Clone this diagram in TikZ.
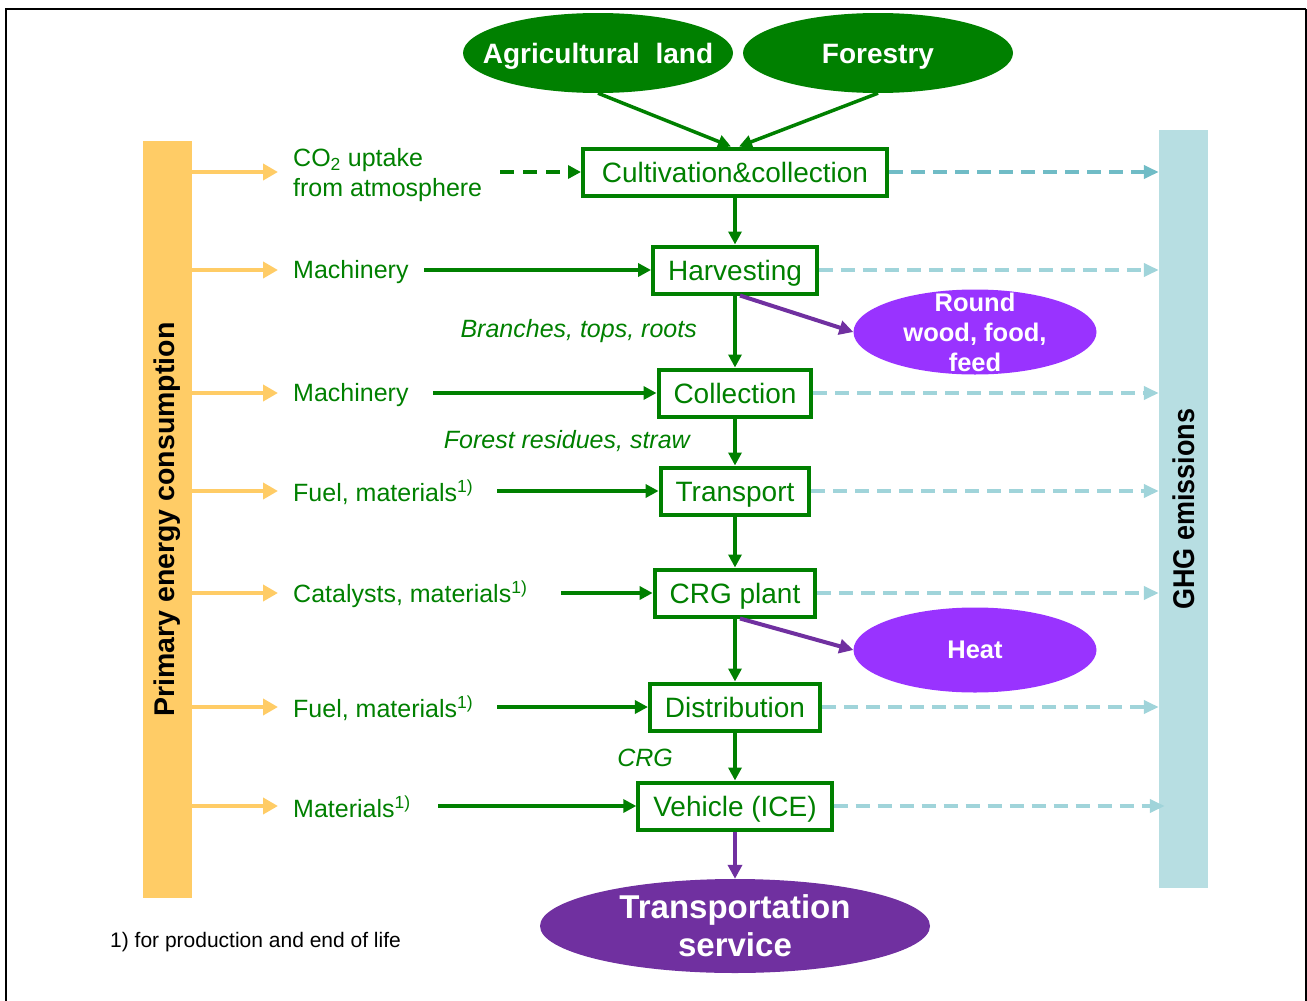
\documentclass[tikz,border=0pt]{standalone}
\usepackage{fontspec}
\setmainfont{Liberation Sans}
\usetikzlibrary{arrows.meta,shapes.geometric}

\begin{document}
\begin{tikzpicture}[x=1pt, y=-1pt,
    stepbox/.style={draw=crg-green, line width=4pt, fill=white, text=crg-green,
      font=\fontsize{28}{30}\selectfont, inner xsep=15pt, minimum height=47pt,
      text height=26pt, text depth=6pt},
    source/.style={ellipse, fill=crg-green, text=white, inner xsep=-20pt, inner ysep=0pt,
      font=\bfseries\fontsize{28}{30}\selectfont, minimum width=270pt, minimum height=80pt,
      text height=20pt, text depth=0pt},
    product/.style={ellipse, fill=my-violet, text=white, align=center, inner xsep=0pt,
      inner ysep=-16pt, font=\bfseries\fontsize{25.5}{30}\selectfont,
      minimum width=243pt, minimum height=85pt},
    input/.style={anchor=west, text=crg-green, inner sep=0pt, align=left,
      font=\fontsize{25}{30}\selectfont},
    stream/.style={anchor=east, text=crg-green, inner sep=0pt,
      font=\itshape\fontsize{25}{30}\selectfont},
    bar/.style={inner sep=0pt, minimum width=49pt},
    gflow/.style={draw=crg-green, line width=3.5pt, -{Triangle[length=13pt,width=13pt]}},
    yflow/.style={draw=my-yellow, line width=4pt, -{Triangle[length=15pt,width=16pt]}},
    tflow/.style={draw=my-teal, line width=4pt, dash pattern=on 14pt off 8pt,
      -{Triangle[length=15pt,width=13pt]}},
    pflow/.style={draw=my-purple, line width=4pt, -{Triangle[length=14pt,width=14pt]}}]
    \definecolor{crg-green}{RGB}{0,128,0}
    \definecolor{my-yellow}{RGB}{255,204,102}
    \definecolor{my-ghg}{RGB}{183,222,226}
    \definecolor{my-teal}{RGB}{160,212,218}
    \definecolor{my-teal-dark}{RGB}{112,188,198}
    \definecolor{my-violet}{RGB}{153,51,255}
    \definecolor{my-purple}{RGB}{112,48,160}
    \useasboundingbox (0,0) rectangle (1307,1001);
    % frame
    \draw[line width=2.5pt] (6,1001) -- (6,9) -- (1306,9);
    \draw[line width=1.5pt] (1306,9) -- (1306,1001);
    % sources
    \node[source] (agri) at (598,53) {Agricultural\ \ land};
    \node[source] (forest) at (878,53) {Forestry};
    % process chain
    \node[stepbox, minimum width=304pt] (cult) at (735,172) {Cultivation\&collection};
    \node[stepbox] (harv) at (735,270) {Harvesting};
    \node[stepbox] (coll) at (735,393) {Collection};
    \node[stepbox] (trans) at (735,491) {Transport};
    \node[stepbox] (plant) at (735,593) {CRG plant};
    \node[stepbox] (distr) at (735,707) {Distribution};
    \node[stepbox] (veh) at (735,806) {Vehicle (ICE)};
    \node[ellipse, fill=my-purple, text=white, align=center, inner xsep=0pt, inner ysep=-6pt,
      font=\bfseries\fontsize{33}{38}\selectfont, minimum width=390pt, minimum height=94pt]
      (service) at (735,926) {Transportation\\service};
    \node[product] (round) at (975,332) {Round\\wood, food,\\feed};
    \node[product] (heat) at (975,650) {Heat};
    % side bars
    \node[bar, fill=my-yellow, minimum height=757pt] (pec) at (167,519.5) {};
    \node[rotate=90, font=\bfseries\fontsize{28.5}{30}\selectfont] at (pec) {Primary\ energy\ consumption};
    \node[bar, fill=my-ghg, minimum height=758pt] (ghg) at (1183.5,509) {};
    \node[rotate=90, font=\bfseries\fontsize{30}{30}\selectfont] at (ghg) {\scalebox{0.9}[1]{GHG emissions}};
    % inputs
    \node[input] (co2) at (293,175) {CO\textsubscript{2} uptake\\from atmosphere};
    \node[input] (mach1) at (293,272) {Machinery};
    \node[input] (mach2) at (293,395) {Machinery};
    \node[input] (fuel1) at (293,492) {Fuel, materials\textsuperscript{1)}};
    \node[input] (cat) at (293,594) {Catalysts, materials\textsuperscript{1)}};
    \node[input] (fuel2) at (293,708) {Fuel, materials\textsuperscript{1)}};
    \node[input] (mat) at (293,807) {Materials\textsuperscript{1)}};
    \coordinate (co2-out) at (500,172);
    \coordinate (mach1-out) at (424,270);
    \coordinate (mach2-out) at (433,393);
    \coordinate (fuel1-out) at (497,491);
    \coordinate (cat-out) at (561,593);
    \coordinate (fuel2-out) at (497,707);
    \coordinate (mat-out) at (438,806);
    % streams
    \node[stream] (branches) at (697,331) {Branches, tops, roots};
    \node[stream] (residues) at (690,441) {Forest residues, straw};
    \node[stream] (crg) at (673,758) {CRG};
    \node[anchor=west, inner sep=0pt, font=\fontsize{21}{24}\selectfont] (note) at (110,942) {1) for production and end of life};
    % arrows
    \draw[gflow] (agri.south) -- ([xshift=-4pt]cult.north);
    \draw[gflow] (forest.south) -- ([xshift=4pt]cult.north);
    \draw[gflow] (cult) -- (harv);
    \draw[gflow] (harv) -- (coll);
    \draw[gflow] (coll) -- (trans);
    \draw[gflow] (trans) -- (plant);
    \draw[gflow] (plant) -- (distr);
    \draw[gflow] (distr) -- (veh);
    \draw[pflow] (veh) -- (service);
    \draw[pflow] ([xshift=5pt]harv.south) -- (round.west);
    \draw[pflow] ([xshift=5pt]plant.south) -- (heat.west);
    \draw[gflow, dash pattern=on 14pt off 9pt] (co2-out) -- (cult);
    \draw[gflow] (mach1-out) -- (harv);
    \draw[gflow] (mach2-out) -- (coll);
    \draw[gflow] (fuel1-out) -- (trans);
    \draw[gflow] (cat-out) -- (plant);
    \draw[gflow] (fuel2-out) -- (distr);
    \draw[gflow] (mat-out) -- (veh);
    \foreach \n/\y in {cult/172, harv/270, mach2/393, fuel1/491, cat/593, fuel2/707, mat/806}
      \draw[yflow] (pec.east |- 0,\y) -- (278,\y);
    \draw[tflow, draw=my-teal-dark] (cult.east) -- (ghg.west |- cult.east);
    \foreach \n in {harv, coll, trans, plant, distr}
      \draw[tflow] (\n.east) -- (ghg.west |- \n.east);
    \draw[tflow] (veh.east) -- ([xshift=6pt]ghg.west |- veh.east);
\end{tikzpicture}
\end{document}
